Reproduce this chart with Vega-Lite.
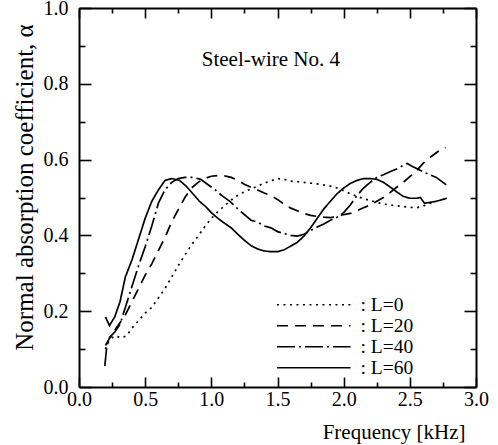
{
  "$schema": "https://vega.github.io/schema/vega-lite/v6.json",
  "width": 397,
  "height": 379,
  "autosize": "none",
  "padding": {"left": 79, "top": 8, "right": 22, "bottom": 58},
  "background": "white",
  "config": {
    "font": "Liberation Serif, Times New Roman, DejaVu Serif, serif",
    "view": {"stroke": null},
    "axis": {
      "domainColor": "black", "domainWidth": 2,
      "tickColor": "black", "tickWidth": 1.6,
      "labelColor": "black", "titleColor": "black",
      "labelFont": "Liberation Serif, Times New Roman, DejaVu Serif, serif", "titleFont": "Liberation Serif, Times New Roman, DejaVu Serif, serif",
      "labelFontSize": 20, "titleFontSize": 21, "titleFontWeight": "normal",
      "grid": false
    }
  },
  "datasets": {
    "curves": [
      {"f":0.20,"a":0.185,"s":"L=60"},{"f":0.23,"a":0.162,"s":"L=60"},{"f":0.27,"a":0.185,"s":"L=60"},{"f":0.31,"a":0.225,"s":"L=60"},{"f":0.35,"a":0.29,"s":"L=60"},{"f":0.40,"a":0.335,"s":"L=60"},{"f":0.45,"a":0.39,"s":"L=60"},{"f":0.50,"a":0.445,"s":"L=60"},{"f":0.55,"a":0.49,"s":"L=60"},{"f":0.60,"a":0.52,"s":"L=60"},{"f":0.65,"a":0.545,"s":"L=60"},{"f":0.70,"a":0.55,"s":"L=60"},{"f":0.76,"a":0.545,"s":"L=60"},{"f":0.81,"a":0.53,"s":"L=60"},{"f":0.86,"a":0.51,"s":"L=60"},{"f":0.91,"a":0.49,"s":"L=60"},{"f":0.96,"a":0.475,"s":"L=60"},{"f":1.00,"a":0.46,"s":"L=60"},{"f":1.05,"a":0.445,"s":"L=60"},{"f":1.10,"a":0.432,"s":"L=60"},{"f":1.15,"a":0.42,"s":"L=60"},{"f":1.20,"a":0.403,"s":"L=60"},{"f":1.25,"a":0.387,"s":"L=60"},{"f":1.30,"a":0.373,"s":"L=60"},{"f":1.35,"a":0.364,"s":"L=60"},{"f":1.40,"a":0.359,"s":"L=60"},{"f":1.45,"a":0.357,"s":"L=60"},{"f":1.50,"a":0.357,"s":"L=60"},{"f":1.55,"a":0.362,"s":"L=60"},{"f":1.60,"a":0.372,"s":"L=60"},{"f":1.65,"a":0.382,"s":"L=60"},{"f":1.70,"a":0.398,"s":"L=60"},{"f":1.75,"a":0.42,"s":"L=60"},{"f":1.80,"a":0.445,"s":"L=60"},{"f":1.85,"a":0.47,"s":"L=60"},{"f":1.90,"a":0.49,"s":"L=60"},{"f":1.95,"a":0.51,"s":"L=60"},{"f":2.00,"a":0.525,"s":"L=60"},{"f":2.05,"a":0.537,"s":"L=60"},{"f":2.10,"a":0.545,"s":"L=60"},{"f":2.15,"a":0.55,"s":"L=60"},{"f":2.20,"a":0.55,"s":"L=60"},{"f":2.25,"a":0.548,"s":"L=60"},{"f":2.30,"a":0.54,"s":"L=60"},{"f":2.35,"a":0.528,"s":"L=60"},{"f":2.40,"a":0.515,"s":"L=60"},{"f":2.45,"a":0.503,"s":"L=60"},{"f":2.50,"a":0.498,"s":"L=60"},{"f":2.55,"a":0.498,"s":"L=60"},{"f":2.58,"a":0.50,"s":"L=60"},{"f":2.61,"a":0.485,"s":"L=60"},{"f":2.65,"a":0.487,"s":"L=60"},{"f":2.70,"a":0.49,"s":"L=60"},{"f":2.75,"a":0.495,"s":"L=60"},{"f":2.78,"a":0.498,"s":"L=60"},
      {"f":0.195,"a":0.055,"s":"L=40"},{"f":0.21,"a":0.108,"s":"L=40"},{"f":0.23,"a":0.13,"s":"L=40"},{"f":0.27,"a":0.145,"s":"L=40"},{"f":0.31,"a":0.165,"s":"L=40"},{"f":0.35,"a":0.21,"s":"L=40"},{"f":0.40,"a":0.265,"s":"L=40"},{"f":0.45,"a":0.32,"s":"L=40"},{"f":0.50,"a":0.37,"s":"L=40"},{"f":0.55,"a":0.425,"s":"L=40"},{"f":0.60,"a":0.485,"s":"L=40"},{"f":0.65,"a":0.52,"s":"L=40"},{"f":0.70,"a":0.54,"s":"L=40"},{"f":0.75,"a":0.55,"s":"L=40"},{"f":0.80,"a":0.553,"s":"L=40"},{"f":0.86,"a":0.553,"s":"L=40"},{"f":0.92,"a":0.548,"s":"L=40"},{"f":0.97,"a":0.535,"s":"L=40"},{"f":1.03,"a":0.52,"s":"L=40"},{"f":1.08,"a":0.505,"s":"L=40"},{"f":1.14,"a":0.49,"s":"L=40"},{"f":1.20,"a":0.47,"s":"L=40"},{"f":1.25,"a":0.455,"s":"L=40"},{"f":1.30,"a":0.44,"s":"L=40"},{"f":1.35,"a":0.435,"s":"L=40"},{"f":1.40,"a":0.425,"s":"L=40"},{"f":1.45,"a":0.42,"s":"L=40"},{"f":1.50,"a":0.41,"s":"L=40"},{"f":1.55,"a":0.405,"s":"L=40"},{"f":1.60,"a":0.40,"s":"L=40"},{"f":1.65,"a":0.398,"s":"L=40"},{"f":1.70,"a":0.403,"s":"L=40"},{"f":1.75,"a":0.413,"s":"L=40"},{"f":1.80,"a":0.422,"s":"L=40"},{"f":1.85,"a":0.43,"s":"L=40"},{"f":1.90,"a":0.44,"s":"L=40"},{"f":1.95,"a":0.448,"s":"L=40"},{"f":2.00,"a":0.46,"s":"L=40"},{"f":2.05,"a":0.48,"s":"L=40"},{"f":2.10,"a":0.505,"s":"L=40"},{"f":2.15,"a":0.525,"s":"L=40"},{"f":2.20,"a":0.54,"s":"L=40"},{"f":2.25,"a":0.553,"s":"L=40"},{"f":2.30,"a":0.56,"s":"L=40"},{"f":2.35,"a":0.568,"s":"L=40"},{"f":2.40,"a":0.575,"s":"L=40"},{"f":2.45,"a":0.585,"s":"L=40"},{"f":2.48,"a":0.59,"s":"L=40"},{"f":2.52,"a":0.582,"s":"L=40"},{"f":2.56,"a":0.575,"s":"L=40"},{"f":2.60,"a":0.568,"s":"L=40"},{"f":2.65,"a":0.56,"s":"L=40"},{"f":2.70,"a":0.553,"s":"L=40"},{"f":2.75,"a":0.54,"s":"L=40"},{"f":2.78,"a":0.532,"s":"L=40"},
      {"f":0.20,"a":0.11,"s":"L=20"},{"f":0.25,"a":0.14,"s":"L=20"},{"f":0.30,"a":0.165,"s":"L=20"},{"f":0.35,"a":0.19,"s":"L=20"},{"f":0.40,"a":0.225,"s":"L=20"},{"f":0.45,"a":0.26,"s":"L=20"},{"f":0.50,"a":0.295,"s":"L=20"},{"f":0.55,"a":0.325,"s":"L=20"},{"f":0.60,"a":0.36,"s":"L=20"},{"f":0.65,"a":0.395,"s":"L=20"},{"f":0.70,"a":0.435,"s":"L=20"},{"f":0.75,"a":0.468,"s":"L=20"},{"f":0.80,"a":0.50,"s":"L=20"},{"f":0.85,"a":0.525,"s":"L=20"},{"f":0.90,"a":0.54,"s":"L=20"},{"f":0.95,"a":0.55,"s":"L=20"},{"f":1.00,"a":0.556,"s":"L=20"},{"f":1.05,"a":0.558,"s":"L=20"},{"f":1.10,"a":0.557,"s":"L=20"},{"f":1.15,"a":0.553,"s":"L=20"},{"f":1.20,"a":0.545,"s":"L=20"},{"f":1.25,"a":0.535,"s":"L=20"},{"f":1.30,"a":0.527,"s":"L=20"},{"f":1.35,"a":0.52,"s":"L=20"},{"f":1.40,"a":0.512,"s":"L=20"},{"f":1.45,"a":0.505,"s":"L=20"},{"f":1.50,"a":0.495,"s":"L=20"},{"f":1.55,"a":0.482,"s":"L=20"},{"f":1.60,"a":0.472,"s":"L=20"},{"f":1.65,"a":0.465,"s":"L=20"},{"f":1.70,"a":0.458,"s":"L=20"},{"f":1.75,"a":0.453,"s":"L=20"},{"f":1.80,"a":0.45,"s":"L=20"},{"f":1.85,"a":0.448,"s":"L=20"},{"f":1.90,"a":0.447,"s":"L=20"},{"f":1.95,"a":0.45,"s":"L=20"},{"f":2.00,"a":0.455,"s":"L=20"},{"f":2.05,"a":0.458,"s":"L=20"},{"f":2.10,"a":0.465,"s":"L=20"},{"f":2.15,"a":0.473,"s":"L=20"},{"f":2.20,"a":0.48,"s":"L=20"},{"f":2.25,"a":0.49,"s":"L=20"},{"f":2.30,"a":0.50,"s":"L=20"},{"f":2.35,"a":0.513,"s":"L=20"},{"f":2.40,"a":0.527,"s":"L=20"},{"f":2.45,"a":0.54,"s":"L=20"},{"f":2.50,"a":0.555,"s":"L=20"},{"f":2.55,"a":0.57,"s":"L=20"},{"f":2.60,"a":0.59,"s":"L=20"},{"f":2.65,"a":0.605,"s":"L=20"},{"f":2.70,"a":0.618,"s":"L=20"},{"f":2.74,"a":0.628,"s":"L=20"},{"f":2.77,"a":0.632,"s":"L=20"},
      {"f":0.20,"a":0.10,"s":"L=0"},{"f":0.23,"a":0.125,"s":"L=0"},{"f":0.27,"a":0.135,"s":"L=0"},{"f":0.32,"a":0.13,"s":"L=0"},{"f":0.36,"a":0.135,"s":"L=0"},{"f":0.40,"a":0.155,"s":"L=0"},{"f":0.45,"a":0.175,"s":"L=0"},{"f":0.50,"a":0.195,"s":"L=0"},{"f":0.55,"a":0.21,"s":"L=0"},{"f":0.60,"a":0.235,"s":"L=0"},{"f":0.65,"a":0.26,"s":"L=0"},{"f":0.70,"a":0.29,"s":"L=0"},{"f":0.75,"a":0.32,"s":"L=0"},{"f":0.80,"a":0.348,"s":"L=0"},{"f":0.85,"a":0.375,"s":"L=0"},{"f":0.90,"a":0.398,"s":"L=0"},{"f":0.95,"a":0.423,"s":"L=0"},{"f":1.00,"a":0.445,"s":"L=0"},{"f":1.05,"a":0.463,"s":"L=0"},{"f":1.10,"a":0.478,"s":"L=0"},{"f":1.15,"a":0.493,"s":"L=0"},{"f":1.20,"a":0.506,"s":"L=0"},{"f":1.25,"a":0.515,"s":"L=0"},{"f":1.30,"a":0.523,"s":"L=0"},{"f":1.35,"a":0.53,"s":"L=0"},{"f":1.40,"a":0.538,"s":"L=0"},{"f":1.45,"a":0.544,"s":"L=0"},{"f":1.50,"a":0.55,"s":"L=0"},{"f":1.55,"a":0.548,"s":"L=0"},{"f":1.60,"a":0.543,"s":"L=0"},{"f":1.65,"a":0.542,"s":"L=0"},{"f":1.70,"a":0.54,"s":"L=0"},{"f":1.75,"a":0.538,"s":"L=0"},{"f":1.80,"a":0.536,"s":"L=0"},{"f":1.85,"a":0.533,"s":"L=0"},{"f":1.90,"a":0.53,"s":"L=0"},{"f":1.95,"a":0.525,"s":"L=0"},{"f":2.00,"a":0.518,"s":"L=0"},{"f":2.05,"a":0.51,"s":"L=0"},{"f":2.10,"a":0.503,"s":"L=0"},{"f":2.15,"a":0.497,"s":"L=0"},{"f":2.20,"a":0.492,"s":"L=0"},{"f":2.25,"a":0.487,"s":"L=0"},{"f":2.30,"a":0.483,"s":"L=0"},{"f":2.35,"a":0.48,"s":"L=0"},{"f":2.40,"a":0.478,"s":"L=0"},{"f":2.45,"a":0.476,"s":"L=0"},{"f":2.50,"a":0.474,"s":"L=0"},{"f":2.55,"a":0.473,"s":"L=0"},{"f":2.60,"a":0.477,"s":"L=0"},{"f":2.65,"a":0.484,"s":"L=0"},{"f":2.70,"a":0.49,"s":"L=0"}
    ],
    "note": [{"f": 1.45, "a": 0.863, "t": "Steel-wire No. 4"}]
  },
  "layer": [
    {
      "data": {"name": "curves"},
      "mark": {"type": "line", "color": "black", "strokeWidth": 1.7},
      "encoding": {
        "x": {"field": "f", "type": "quantitative", "scale": {"domain": [0, 3], "nice": false},
          "axis": {"orient": "bottom", "title": "Frequency [kHz]", "titleAnchor": "end", "titleAlign": "right", "titleBaseline": "alphabetic", "titleX": 386, "titleY": 51,
            "values": [0,0.25,0.5,0.75,1,1.25,1.5,1.75,2,2.25,2.5,2.75,3],
            "labelExpr": "round(datum.value*4)%2==0 ? format(datum.value,'.1f') : ''",
            "tickSize": {"condition": {"test": "round(datum.value*4)%2==0", "value": -10}, "value": -5},
            "labelPadding": 12.5, "labelFlush": false, "labelOverlap": false}},
        "y": {"field": "a", "type": "quantitative", "scale": {"domain": [0, 1], "nice": false},
          "axis": {"orient": "left", "title": "Normal absorption coefficient, α", "titleFontSize": 25,
            "titleAnchor": "middle", "titleBaseline": "middle", "titleX": -55, "titleY": 179,
            "values": [0,0.1,0.2,0.3,0.4,0.5,0.6,0.7,0.8,0.9,1],
            "labelExpr": "round(datum.value*10)%2==0 ? format(datum.value,'.1f') : ''",
            "tickSize": {"condition": {"test": "round(datum.value*10)%2==0", "value": -12}, "value": -6},
            "labelPadding": 23, "labelFlush": false, "labelOverlap": false}},
        "strokeDash": {"field": "s", "type": "nominal",
          "scale": {"domain": ["L=0", "L=20", "L=40", "L=60"], "range": [[2, 4.5], [11, 7], [18, 4, 2, 4], [1, 0]]},
          "legend": {"orient": "none", "legendX": 225, "legendY": 287, "title": null,
            "symbolType": "M-4.6,0H4.6", "symbolSize": 256, "symbolStrokeColor": "black", "symbolStrokeWidth": 1.7, "symbolFillColor": "transparent",
            "labelExpr": "': ' + datum.label", "labelFontSize": 19.5, "labelFont": "Liberation Serif, Times New Roman, DejaVu Serif, serif", "labelColor": "black",
            "rowPadding": 0, "labelOffset": 37}}
      }
    },
    {
      "data": {"name": "curves"},
      "mark": {"type": "point", "opacity": 0},
      "encoding": {
        "x": {"field": "f", "type": "quantitative", "scale": {"domain": [0, 3], "nice": false},
          "axis": {"orient": "top", "title": null, "labels": false,
            "values": [0,0.25,0.5,0.75,1,1.25,1.5,1.75,2,2.25,2.5,2.75,3],
            "tickSize": {"condition": {"test": "round(datum.value*4)%2==0", "value": -10}, "value": -5}}},
        "y": {"field": "a", "type": "quantitative", "scale": {"domain": [0, 1], "nice": false},
          "axis": {"orient": "right", "title": null, "labels": false,
            "values": [0,0.1,0.2,0.3,0.4,0.5,0.6,0.7,0.8,0.9,1],
            "tickSize": {"condition": {"test": "round(datum.value*10)%2==0", "value": -12}, "value": -6}}}
      }
    },
    {
      "data": {"name": "note"},
      "mark": {"type": "text", "font": "Liberation Serif, Times New Roman, DejaVu Serif, serif", "fontSize": 21, "color": "black"},
      "encoding": {
        "x": {"field": "f", "type": "quantitative", "axis": null},
        "y": {"field": "a", "type": "quantitative", "axis": null},
        "text": {"field": "t"}
      }
    }
  ],
  "resolve": {"axis": {"x": "independent", "y": "independent"}}
}
